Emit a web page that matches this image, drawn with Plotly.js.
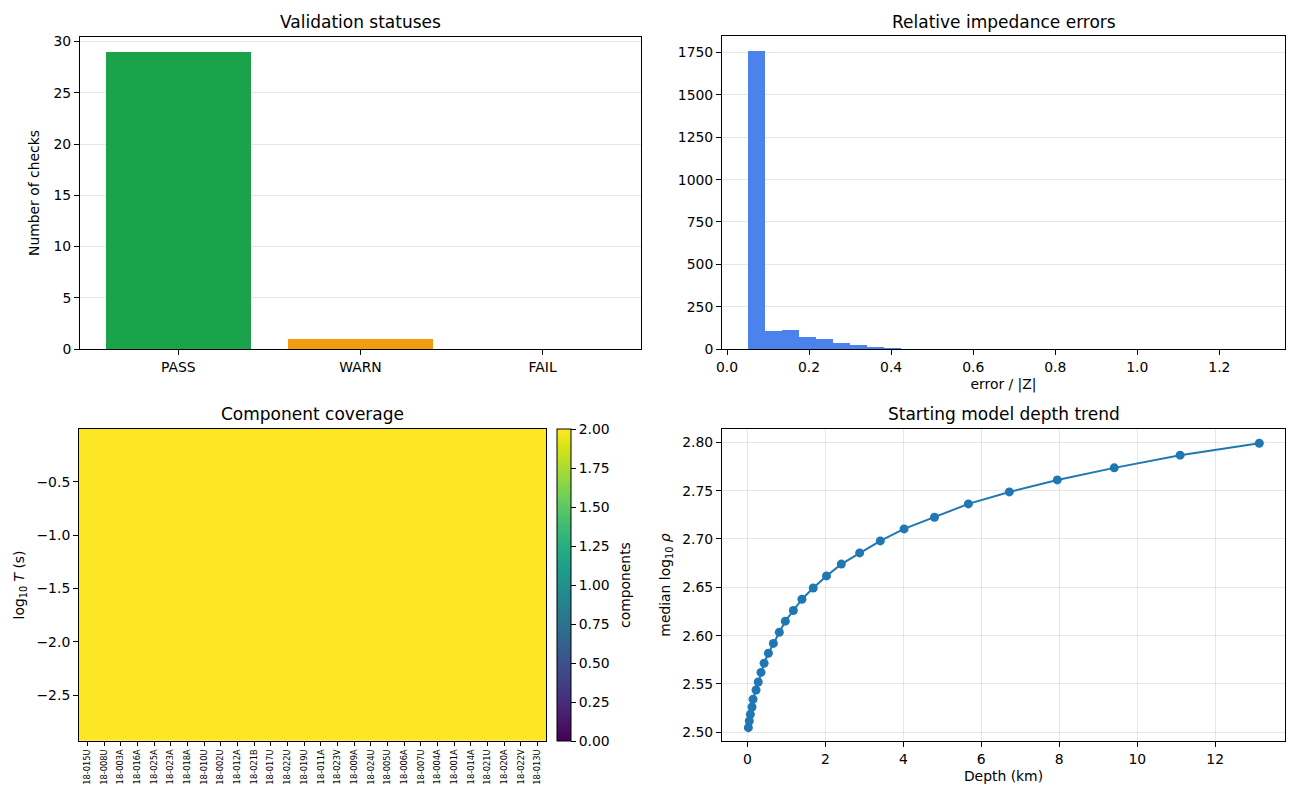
<!DOCTYPE html>
<html>
<head>
<meta charset="utf-8">
<script src="https://cdn.plot.ly/plotly-3.0.1.min.js"></script>
<style>html,body{margin:0;padding:0;background:#fff;}#chart{width:1300px;height:800px;}</style>
</head>
<body>
<div id="chart"></div>
<script>
// ---- Validation statuses ----
const statusLabels = ["PASS", "WARN", "FAIL"];
const statusCounts = [29, 1, 0];
const statusColors = ["#1aa34a", "#f39c0f", "#d62728"];

// ---- Relative impedance errors (histogram) ----
const histBinEdges = [0.05, 0.0917, 0.1333, 0.175, 0.2167, 0.2583, 0.3, 0.3417, 0.3833, 0.425,
  0.4667, 0.5083, 0.55, 0.5917, 0.6333, 0.675, 0.7167, 0.7583, 0.8, 0.8417,
  0.8833, 0.925, 0.9667, 1.0083, 1.05, 1.0917, 1.1333, 1.175, 1.2167, 1.2583, 1.3];
const histCounts = [1758, 106, 112, 71, 57, 34, 24, 12, 5, 0,
  0, 0, 0, 0, 0, 0, 0, 0, 0, 0,
  0, 0, 0, 0, 0, 0, 0, 0, 0, 1];

// ---- Component coverage (heatmap) ----
const stations = ["18-015U","18-008U","18-003A","18-016A","18-025A","18-023A","18-018A","18-010U","18-002U","18-012A",
  "18-021B","18-017U","18-022U","18-019U","18-011A","18-023V","18-009A","18-024U","18-005U","18-006A",
  "18-007U","18-004A","18-001A","18-014A","18-021U","18-020A","18-022V","18-013U"];
const logPeriods = [-0.122, -0.366, -0.610, -0.855, -1.099, -1.343, -1.587, -1.831, -2.075, -2.320, -2.564, -2.808];
const coverage = [
  [2,2,2,2,2,2,2,2,2,2,2,2,2,2,2,2,2,2,2,2,2,2,2,2,2,2,2,2],
  [2,2,2,2,2,2,2,2,2,2,2,2,2,2,2,2,2,2,2,2,2,2,2,2,2,2,2,2],
  [2,2,2,2,2,2,2,2,2,2,2,2,2,2,2,2,2,2,2,2,2,2,2,2,2,2,2,2],
  [2,2,2,2,2,2,2,2,2,2,2,2,2,2,2,2,2,2,2,2,2,2,2,2,2,2,2,2],
  [2,2,2,2,2,2,2,2,2,2,2,2,2,2,2,2,2,2,2,2,2,2,2,2,2,2,2,2],
  [2,2,2,2,2,2,2,2,2,2,2,2,2,2,2,2,2,2,2,2,2,2,2,2,2,2,2,2],
  [2,2,2,2,2,2,2,2,2,2,2,2,2,2,2,2,2,2,2,2,2,2,2,2,2,2,2,2],
  [2,2,2,2,2,2,2,2,2,2,2,2,2,2,2,2,2,2,2,2,2,2,2,2,2,2,2,2],
  [2,2,2,2,2,2,2,2,2,2,2,2,2,2,2,2,2,2,2,2,2,2,2,2,2,2,2,2],
  [2,2,2,2,2,2,2,2,2,2,2,2,2,2,2,2,2,2,2,2,2,2,2,2,2,2,2,2],
  [2,2,2,2,2,2,2,2,2,2,2,2,2,2,2,2,2,2,2,2,2,2,2,2,2,2,2,2],
  [2,2,2,2,2,2,2,2,2,2,2,2,2,2,2,2,2,2,2,2,2,2,2,2,2,2,2,2]
];
const periodTicks = [-0.5, -1.0, -1.5, -2.0, -2.5];
const cbTicks = [0, 0.25, 0.5, 0.75, 1.0, 1.25, 1.5, 1.75, 2.0];

// ---- Starting model depth trend ----
const depthKm = [0.026, 0.05, 0.077, 0.12, 0.146, 0.223, 0.28, 0.35, 0.43, 0.54,
  0.667, 0.82, 0.974, 1.18, 1.40, 1.69, 2.03, 2.41, 2.88, 3.41,
  4.02, 4.80, 5.67, 6.72, 7.95, 9.41, 11.10, 13.13];
const medianLogRho = [2.5048, 2.5117, 2.5186, 2.5262, 2.5342, 2.5438, 2.552, 2.562, 2.5714, 2.5818,
  2.592, 2.6035, 2.615, 2.626, 2.6377, 2.6493, 2.6618, 2.674, 2.6856, 2.698,
  2.7104, 2.7225, 2.7363, 2.7487, 2.7611, 2.7736, 2.7867, 2.7991];

// ---- build ----
const W = 1300, H = 800;
const FONT = "DejaVu Sans, Liberation Sans, sans-serif";
const TICKF = {family: FONT, size: 13.9, color: "#000"};
const GRID = "rgba(176,176,176,0.3)";
function dx(a, b) { return [a / W, b / W]; }
function dy(top, bottom) { return [1 - bottom / H, 1 - top / H]; }
function baseAxis(extra) {
  return Object.assign({
    showline: true, mirror: true, linecolor: "#000", linewidth: 1,
    ticks: "outside", ticklen: 5, tickwidth: 1, tickcolor: "#000",
    tickfont: TICKF, zeroline: false, showgrid: false, fixedrange: true
  }, extra);
}

const histCenters = histCounts.map((c, i) => (histBinEdges[i] + histBinEdges[i + 1]) / 2);
const histWidths = histCounts.map((c, i) => histBinEdges[i + 1] - histBinEdges[i]);

const traces = [
  {type: "bar", x: statusLabels, y: statusCounts, marker: {color: statusColors, line: {width: 0}},
   width: 0.8, xaxis: "x", yaxis: "y", hoverinfo: "x+y"},
  {type: "bar", x: histCenters, y: histCounts, width: histWidths,
   marker: {color: "#4c82ec", line: {width: 0}}, xaxis: "x2", yaxis: "y2"},
  {type: "heatmap", x: stations, y: logPeriods, z: coverage, zmin: 0, zmax: 2,
   colorscale: "Viridis", xaxis: "x3", yaxis: "y3",
   colorbar: {x: 557 / W, xanchor: "left", xpad: 0, ypad: 0, y: 1 - 741 / H, yanchor: "bottom",
     len: 312 / H, lenmode: "fraction", thickness: 14, thicknessmode: "pixels",
     outlinewidth: 1, outlinecolor: "#000", ticks: "outside", ticklen: 5, tickcolor: "#000",
     tickvals: cbTicks, tickformat: ".2f", tickfont: TICKF}},
  {type: "scatter", mode: "lines+markers", x: depthKm, y: medianLogRho,
   line: {color: "#1f77b4", width: 2}, marker: {color: "#1f77b4", size: 9},
   xaxis: "x4", yaxis: "y4"}
];

const titleFont = {family: FONT, size: 17, color: "#000"};
const labelFont = {family: FONT, size: 13.9, color: "#000"};

const layout = {
  width: W, height: H, margin: {l: 0, r: 0, t: 0, b: 0},
  paper_bgcolor: "#fff", plot_bgcolor: "#fff", showlegend: false,
  font: {family: FONT, color: "#000"},
  bargap: 0,
  xaxis: baseAxis({domain: dx(80, 641), anchor: "y", range: [-0.54, 2.54], type: "category"}),
  yaxis: baseAxis({domain: dy(37, 349), anchor: "x", range: [0, 30.45], dtick: 5,
    showgrid: true, gridcolor: GRID, layer: "above traces",
    title: {text: "Number of checks", font: labelFont, standoff: 10}}),
  xaxis2: baseAxis({domain: dx(722, 1285), anchor: "y2", range: [-0.0122, 1.36], dtick: 0.2, tickformat: ".1f",
    title: {text: "error / |Z|", font: labelFont, standoff: 5}}),
  yaxis2: baseAxis({domain: dy(36, 349), anchor: "x2", range: [0, 1848], dtick: 250,
    showgrid: true, gridcolor: GRID, layer: "above traces"}),
  xaxis3: baseAxis({domain: dx(79, 546), anchor: "y3", type: "category", tickangle: -90,
    tickfont: {family: FONT, size: 8.3, color: "#000"}, ticklen: 4}),
  yaxis3: baseAxis({domain: dy(429, 741), anchor: "x3", range: [-2.931, -0.003],
    tickvals: periodTicks, tickformat: ".1f",
    title: {text: "log<sub>10</sub> <i>T</i> (s)", font: labelFont, standoff: 8}}),
  xaxis4: baseAxis({domain: dx(722, 1285), anchor: "y4", range: [-0.65, 13.79], dtick: 2,
    showgrid: true, gridcolor: GRID,
    title: {text: "Depth (km)", font: labelFont, standoff: 5}}),
  yaxis4: baseAxis({domain: dy(429, 741), anchor: "x4", range: [2.491, 2.8138], dtick: 0.05, tickformat: ".2f",
    showgrid: true, gridcolor: GRID,
    title: {text: "median log<sub>10</sub> <i>ρ</i>", font: labelFont, standoff: 8}}),
  annotations: [
    {text: "Validation statuses", x: (80 + 641) / 2 / W, y: 1 - 22 / H, xref: "paper", yref: "paper",
     showarrow: false, font: titleFont, xanchor: "center", yanchor: "middle"},
    {text: "Relative impedance errors", x: (722 + 1285) / 2 / W, y: 1 - 22 / H, xref: "paper", yref: "paper",
     showarrow: false, font: titleFont, xanchor: "center", yanchor: "middle"},
    {text: "Component coverage", x: (79 + 546) / 2 / W, y: 1 - 414 / H, xref: "paper", yref: "paper",
     showarrow: false, font: titleFont, xanchor: "center", yanchor: "middle"},
    {text: "Starting model depth trend", x: (722 + 1285) / 2 / W, y: 1 - 414 / H, xref: "paper", yref: "paper",
     showarrow: false, font: titleFont, xanchor: "center", yanchor: "middle"},
    {text: "components", x: 625 / W, y: 1 - 585 / H, xref: "paper", yref: "paper", textangle: -90,
     showarrow: false, font: labelFont, xanchor: "center", yanchor: "middle"}
  ]
};

Plotly.newPlot("chart", traces, layout, {staticPlot: true, displayModeBar: false});
</script>
</body>
</html>
